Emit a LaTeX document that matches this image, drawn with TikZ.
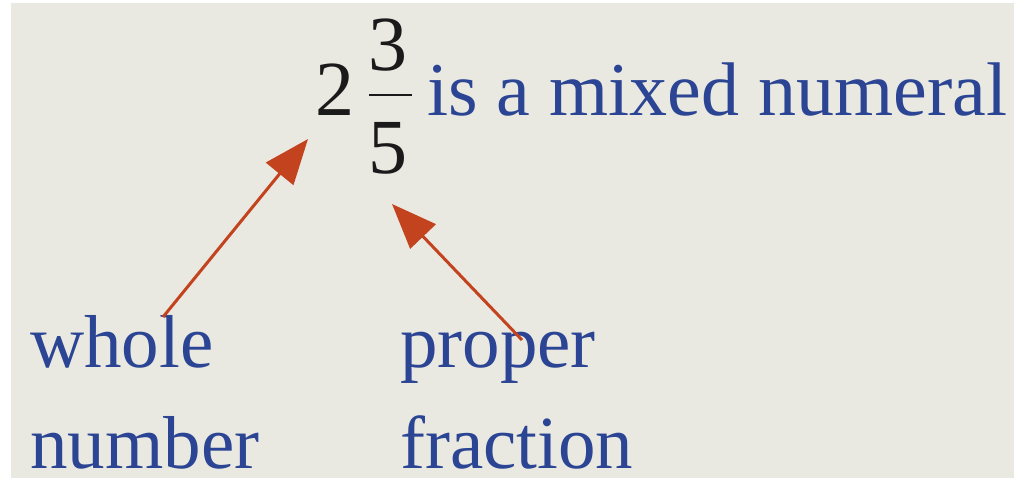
\documentclass[tikz,border=0pt]{standalone}
\usepackage{fontspec}
\setmainfont{Liberation Serif}
\usetikzlibrary{arrows.meta}
\definecolor{bgc}{HTML}{E9E9E1}
\definecolor{txtblue}{HTML}{2B4594}
\definecolor{arrred}{HTML}{C4431F}
\definecolor{digitc}{HTML}{1A1A1A}
\begin{document}
\begin{tikzpicture}[x=1pt,y=-1pt,
  lbl/.style={anchor=base west,inner sep=0pt,text=txtblue,font=\fontsize{75}{80}\selectfont},
  dig/.style={inner sep=0pt,text=digitc,font=\fontsize{78}{80}\selectfont},
  pointer/.style={draw=arrred,line width=3pt,-{Triangle[length=45pt,width=35pt]}}]
\useasboundingbox (0,0) rectangle (1014,479);
\fill[white] (0,0) rectangle (1014,479);
\fill[bgc] (11,3) rectangle (1014,478);
% mixed numeral
\node[dig,anchor=base west] (whole) at (315,115) {2};
\node[dig,anchor=base] (num) at (388,70) {3};
\node[dig,anchor=base] (den) at (388,173) {5};
\draw[digitc,line width=2.6pt] (369,95) -- (412,95);
\node[lbl,font=\fontsize{76}{80}\selectfont] (title) at (427,115) {is a mixed numeral};
% labels
\node[lbl] (w1) at (30,367) {whole};
\node[lbl,text depth=0pt] (w2) at (30,468) {number};
\node[lbl] (p1) at (400,367) {proper};
\node[lbl,text depth=0pt] (p2) at (400,468) {fraction};
% arrows
\coordinate (t1) at (163,317);
\coordinate (h1) at (308,139);
\coordinate (t2) at (522,340);
\coordinate (h2) at (392,204);
\draw[pointer] (t1) -- (h1);
\draw[pointer] (t2) -- (h2);
\end{tikzpicture}
\end{document}
